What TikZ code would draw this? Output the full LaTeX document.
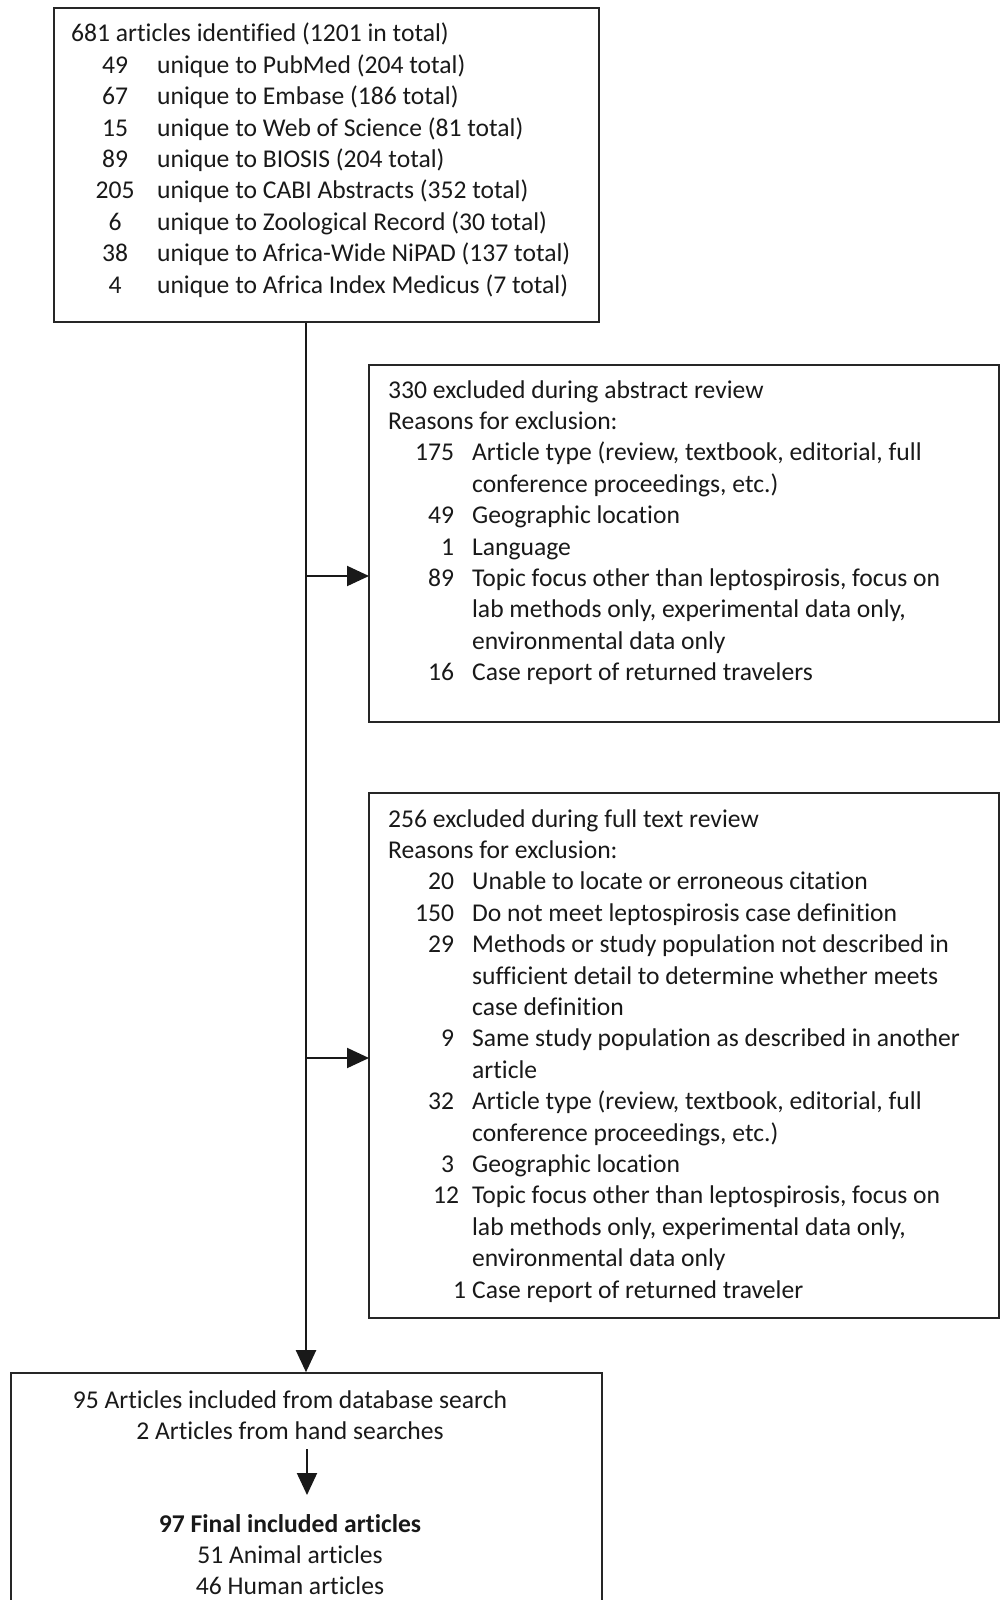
\documentclass[tikz,border=0pt]{standalone}
\usepackage{fontspec}
\setmainfont{Carlito}[Ligatures=NoCommon]
\usepackage{array}
\usetikzlibrary{arrows.meta}
\begin{document}
\begin{tikzpicture}[x=1pt,y=-1pt,
  box/.style={draw=black!85, line width=1.6pt, rectangle, inner sep=0pt},
  txt/.style={inner sep=0pt, font=\fontsize{25.6}{31.4}\selectfont, text=black!90},
  link/.style={line width=2pt, draw=black!90, -{Triangle[length=22pt,width=20pt]}}]
\useasboundingbox (0,0) rectangle (1005,1600);
\clip (0,0) rectangle (1005,1600);

% boxes
\node[box, minimum width=545pt, minimum height=314pt] (top) at (326.5,165) {};
\node[box, minimum width=630pt, minimum height=357pt] (ex1) at (684,543.5) {};
\node[box, minimum width=630pt, minimum height=525pt] (ex2) at (684,1055.5) {};
\node[box, minimum width=591pt, minimum height=280pt] (final) at (306.5,1513) {};

% texts
\node[txt, anchor=base west] (toptext) at (71,42) {\begin{tabular}[t]{@{\hspace{24.5pt}}c@{\hspace{22.5pt}}l@{}}
\multicolumn{2}{@{}l@{}}{681 articles identified (1201 in total)}\\
49 & unique to PubMed (204 total)\\
67 & unique to Embase (186 total)\\
15 & unique to Web of Science (81 total)\\
89 & unique to BIOSIS (204 total)\\
205 & unique to CABI Abstracts (352 total)\\
6 & unique to Zoological Record (30 total)\\
38 & unique to Africa-Wide NiPAD (137 total)\\
4 & unique to Africa Index Medicus (7 total)
\end{tabular}};

\node[txt, anchor=base west] (ex1text) at (388,398) {\begin{tabular}[t]{@{\hspace{27pt}}r@{\hspace{18pt}}l@{}}
\multicolumn{2}{@{}l@{}}{330 excluded during abstract review}\\
\multicolumn{2}{@{}l@{}}{Reasons for exclusion:}\\
175 & Article type (review, textbook, editorial, full\\
 & conference proceedings, etc.)\\
49 & Geographic location\\
1 & Language\\
89 & Topic focus other than leptospirosis, focus on\\
 & lab methods only, experimental data only,\\
 & environmental data only\\
16 & Case report of returned travelers
\end{tabular}};

\node[txt, anchor=base west] (ex2text) at (388,827) {\begin{tabular}[t]{@{\hspace{27pt}}r@{\hspace{18pt}}l@{}}
\multicolumn{2}{@{}l@{}}{256 excluded during full text review}\\
\multicolumn{2}{@{}l@{}}{Reasons for exclusion:}\\
20 & Unable to locate or erroneous citation\\
150 & Do not meet leptospirosis case definition\\
29 & Methods or study population not described in\\
 & sufficient detail to determine whether meets\\
 & case definition\\
9 & Same study population as described in another\\
 & article\\
32 & Article type (review, textbook, editorial, full\\
 & conference proceedings, etc.)\\
3 & Geographic location\\
12\hspace{-5pt} & Topic focus other than leptospirosis, focus on\\
 & lab methods only, experimental data only,\\
 & environmental data only\\
1\hspace{-12pt} & Case report of returned traveler
\end{tabular}};

\node[txt, anchor=base] (inc) at (290,1408) {\begin{tabular}[t]{@{}c@{}}
95 Articles included from database search\\
2 Articles from hand searches
\end{tabular}};

\node[txt, anchor=base] (fin) at (290,1532) {\begin{tabular}[t]{@{}c@{}}
\textbf{97 Final included articles}\\
51 Animal articles\\
46 Human articles
\end{tabular}};

% connectors
\coordinate (jx) at (306,0);
\coordinate (a1) at (369,576);
\coordinate (a2) at (369,1058);
\coordinate (ia) at (307,1449);
\coordinate (ib) at (307,1495);
\draw[link] (top.south -| jx) -- (final.north -| jx);
\draw[link] (a1 -| jx) -- (a1);
\draw[link] (a2 -| jx) -- (a2);
\draw[link] (ia) -- (ib);
\end{tikzpicture}
\end{document}
